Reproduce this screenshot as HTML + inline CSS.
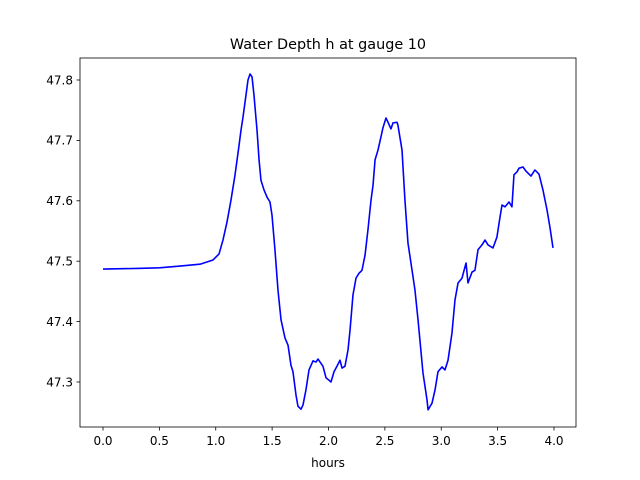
<!DOCTYPE html>
<html><head><meta charset="utf-8"><style>
body{margin:0;background:#fff}
svg{display:block;font-family:"DejaVu Sans","Liberation Sans",sans-serif}
</style></head><body>
<svg id="chart" width="640" height="480">
<rect width="640" height="480" fill="#fff"/>
<text x="328" y="49" text-anchor="middle" font-size="14.4">Water Depth h at gauge 10</text>
<text x="328" y="467" text-anchor="middle" font-size="12">hours</text>
<g id="axes"></g>
<rect x="80" y="58" width="496" height="369" fill="none" stroke="#000" stroke-width="0.8"/>
</svg>
<script>
const hours=[0,0.3,0.5,0.683,0.86,0.976,1.029,1.064,1.1,1.135,1.171,1.206,1.224,1.242,1.268,1.286,1.304,1.322,1.339,1.366,1.384,1.401,1.428,1.455,1.481,1.499,1.525,1.552,1.579,1.614,1.641,1.667,1.685,1.712,1.729,1.756,1.774,1.8,1.827,1.863,1.889,1.907,1.933,1.951,1.978,2.004,2.022,2.049,2.075,2.102,2.12,2.146,2.173,2.191,2.217,2.244,2.27,2.297,2.324,2.35,2.377,2.395,2.413,2.439,2.475,2.483,2.51,2.528,2.554,2.572,2.608,2.616,2.652,2.678,2.705,2.741,2.767,2.794,2.838,2.874,2.883,2.918,2.945,2.971,3.007,3.033,3.06,3.095,3.122,3.149,3.184,3.22,3.237,3.273,3.299,3.326,3.361,3.388,3.415,3.459,3.494,3.521,3.539,3.565,3.601,3.627,3.645,3.672,3.69,3.725,3.752,3.796,3.831,3.867,3.902,3.938,3.965,3.991];
const depth=[47.487,47.488,47.489,47.492,47.495,47.502,47.512,47.535,47.565,47.601,47.643,47.691,47.717,47.739,47.775,47.8,47.81,47.805,47.775,47.717,47.668,47.634,47.618,47.606,47.598,47.576,47.519,47.452,47.403,47.373,47.361,47.328,47.317,47.278,47.26,47.255,47.262,47.287,47.32,47.335,47.333,47.338,47.331,47.326,47.307,47.303,47.3,47.317,47.326,47.336,47.323,47.326,47.353,47.386,47.444,47.472,47.48,47.485,47.51,47.552,47.601,47.626,47.668,47.684,47.714,47.721,47.737,47.73,47.719,47.729,47.73,47.725,47.684,47.601,47.53,47.485,47.452,47.403,47.315,47.27,47.254,47.265,47.287,47.317,47.325,47.32,47.336,47.381,47.436,47.464,47.472,47.497,47.464,47.482,47.485,47.519,47.527,47.535,47.527,47.522,47.54,47.573,47.593,47.59,47.598,47.59,47.643,47.648,47.654,47.656,47.649,47.641,47.651,47.644,47.618,47.585,47.555,47.522];
const xTicks=["0.0","0.5","1.0","1.5","2.0","2.5","3.0","3.5","4.0"];
const yTicks=["47.3","47.4","47.5","47.6","47.7","47.8"];
const X=v=>103+(v-0)*112.75;
const Y=v=>80+(47.8-v)*604;
const ns="http://www.w3.org/2000/svg";
const g=document.getElementById('axes');
function mk(t,a){const e=document.createElementNS(ns,t);for(const k in a)e.setAttribute(k,a[k]);g.appendChild(e);return e;}
xTicks.forEach(t=>{const x=X(parseFloat(t));
const l=mk('line',{x1:x,x2:x,y1:427,y2:430.5,stroke:'#000','stroke-width':0.8});


const s=mk('text',{x:x,y:445,'text-anchor':'middle','font-size':12});s.textContent=t;

});
yTicks.forEach(t=>{const y=Y(parseFloat(t));
const l=mk('line',{x1:76.5,x2:80,y1:y,y2:y,stroke:'#000','stroke-width':0.8});


const s=mk('text',{x:73,y:y+4.3,'text-anchor':'end','font-size':12});s.textContent=t;

});
const p=mk('polyline',{points:hours.map((h,i)=>X(h)+','+Y(depth[i])).join(' '),fill:'none',stroke:'#0000ff','stroke-width':1.6,'stroke-linejoin':'round'});


</script>
</body></html>
